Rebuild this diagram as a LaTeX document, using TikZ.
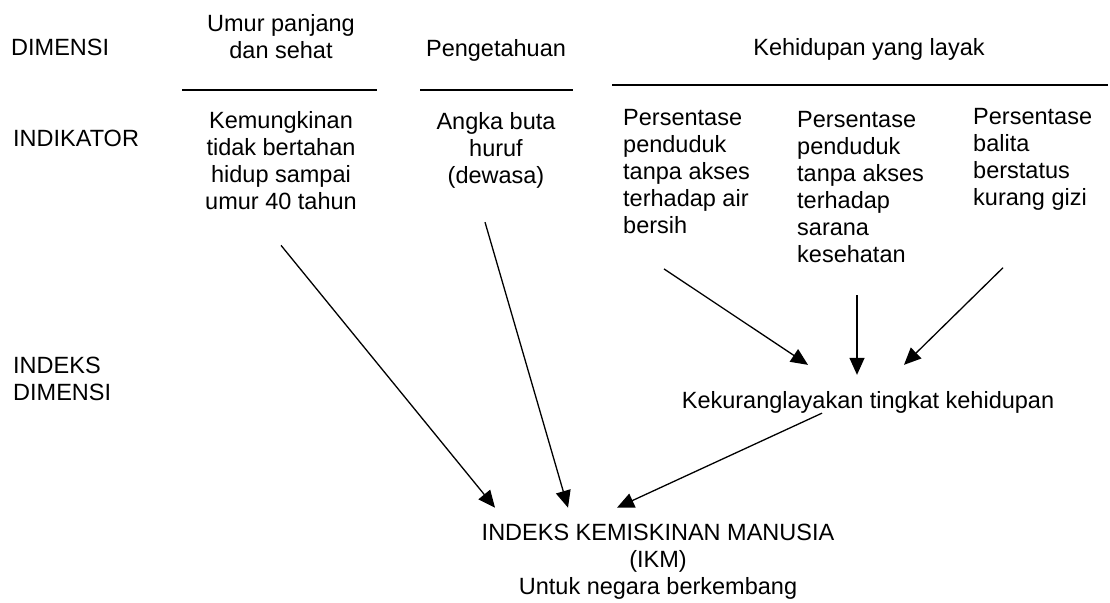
\documentclass[tikz,border=0pt]{standalone}
\usepackage{fontspec}
\setmainfont{Liberation Sans}
\usetikzlibrary{arrows.meta}

\begin{document}
\begin{tikzpicture}[x=1pt,y=-1pt,>={Triangle[length=17pt,width=15pt]},
    teks/.style={inner sep=0pt,align=center,font=\fontsize{23.5}{27}\selectfont},
    kiri/.style={teks,align=left,anchor=west},
    garis/.style={line width=1.5pt},
    panah/.style={->,line width=1.3pt}]
    \useasboundingbox (0,0) rectangle (1110,602);

    % baris kiri
    \node[kiri] (dim)   at (11,47)   {DIMENSI};
    \node[kiri] (ind)   at (13,138)  {INDIKATOR};
    \node[kiri] (idx)   at (13,379)  {INDEKS\\DIMENSI};

    % dimensi
    \node[teks] (umur)  at (281,37)  {Umur panjang\\dan sehat};
    \node[teks] (peng)  at (496,50)  {Pengetahuan};
    \node[teks] (hidup) at (869,49)  {Kehidupan yang layak};
    \draw[garis] (182,90) -- (377,90);
    \draw[garis] (420,90) -- (573,90);
    \draw[garis] (612,85) -- (1108,85);

    % indikator
    \node[teks] (kem)    at (281,161) {Kemungkinan\\tidak bertahan\\hidup sampai\\umur 40 tahun};
    \node[teks] (angka)  at (496,150) {Angka buta\\huruf\\(dewasa)};
    \node[kiri] (air)    at (623,172) {Persentase\\penduduk\\tanpa akses\\terhadap air\\bersih};
    \node[kiri] (sarana) at (797,187) {Persentase\\penduduk\\tanpa akses\\terhadap\\sarana\\kesehatan};
    \node[kiri] (balita) at (973,159) {Persentase\\balita\\berstatus\\kurang gizi};

    % indeks
    \node[teks] (kurang) at (868,402) {Kekuranglayakan tingkat kehidupan};
    \node[teks] (ikm)    at (658,562) {INDEKS KEMISKINAN MANUSIA\\(IKM)\\Untuk negara berkembang};

    \draw[panah] ([xshift=41pt,yshift=-34.5pt]air.south west) -- ([xshift=-60pt,yshift=26pt]kurang.north);
    \draw[panah] ([xshift=60pt,yshift=-32.5pt]sarana.south west) -- ([xshift=-11pt,yshift=16pt]kurang.north);
    \draw[panah] ([xshift=30pt,yshift=-57.5pt]balita.south west) -- ([xshift=36pt,yshift=26pt]kurang.north);

    \draw[panah] ([yshift=-35pt]kem.south) -- ([xshift=-163pt,yshift=16.5pt]ikm.north);
    \draw[panah] ([xshift=-11pt,yshift=-34pt]angka.south) -- ([xshift=-90pt,yshift=16.5pt]ikm.north);
    \draw[panah] ([xshift=-46pt]kurang.south) -- ([xshift=-41pt,yshift=16.5pt]ikm.north);
\end{tikzpicture}
\end{document}
